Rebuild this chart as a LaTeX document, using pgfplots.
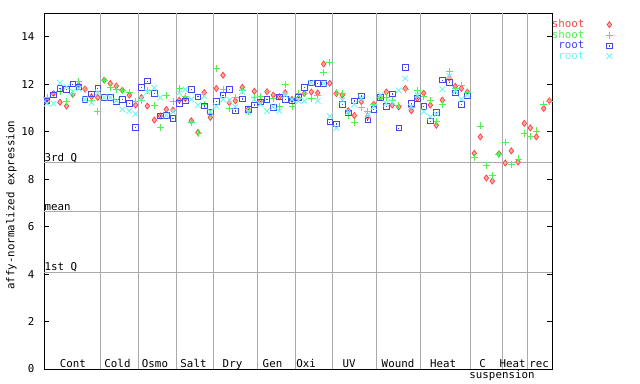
\documentclass[border=0pt]{standalone}
\usepackage{fontspec}
\setmainfont{DejaVu Sans Mono}
\usepackage{pgfplots}
\usepackage{pgfplotstable}
\pgfplotsset{compat=1.18}
\definecolor{sred}{RGB}{255,70,70}
\definecolor{sgreen}{RGB}{80,240,80}
\definecolor{rblue}{RGB}{70,70,240}
\definecolor{rcyan}{RGB}{110,245,245}
\definecolor{sepgray}{RGB}{170,170,170}
\newcommand\fnt{\fontsize{10.8bp}{12bp}\selectfont}
\pgfdeclareplotmark{sqdot}{%
  \pgfpathrectangle{\pgfpoint{-\pgfplotmarksize}{-\pgfplotmarksize}}{\pgfpoint{2\pgfplotmarksize}{2\pgfplotmarksize}}%
  \pgfusepathqstroke
  \pgfpathrectangle{\pgfpoint{-0.6bp}{-0.6bp}}{\pgfpoint{1.2bp}{1.2bp}}%
  \pgfusepathqfill}
\pgfplotstableread{
x sr sg rb rc
47.0 11.29 11.44 11.29 11.19
53.5 11.61 11.61 11.54 11.19
60.0 11.24 11.71 11.82 12.06
66.5 11.08 11.27 11.78 11.89
72.7 11.57 11.61 12.00 11.68
78.7 11.96 12.10 11.89 11.82
85.0 11.80 11.79 11.36 11.36
91.5 11.47 11.30 11.58 11.22
97.7 11.44 10.87 11.82 11.65
104.3 12.17 12.14 11.44 11.44
110.3 12.03 11.86 11.44 11.44
116.3 11.92 11.78 11.26 11.30
122.3 11.75 11.75 11.36 10.94
129.3 11.54 11.65 11.19 10.87
135.5 11.12 11.26 10.18 10.74
141.3 11.44 11.33 11.86 11.40
147.3 11.08 11.72 12.13 11.68
154.3 10.49 11.09 11.61 11.85
160.3 10.66 10.18 10.66 11.44
166.3 10.94 11.52 10.68 10.68
173.0 10.91 11.29 10.56 10.84
179.3 11.33 11.82 11.19 11.64
185.3 11.40 11.50 11.30 11.78
191.3 10.46 10.38 11.78 11.36
198.0 9.97 9.93 11.47 11.12
204.3 11.65 11.16 11.08 11.50
210.3 10.60 10.77 10.84 10.84
216.3 11.82 12.66 11.28 11.07
223.0 12.38 11.78 11.54 11.36
229.3 11.22 10.96 11.78 11.33
235.3 11.30 11.45 10.87 11.05
242.3 11.87 11.75 11.38 11.68
248.3 10.94 10.85 10.94 10.84
254.3 11.70 11.45 11.12 11.36
260.3 11.26 11.47 11.26 11.16
267.0 11.68 11.68 11.36 10.87
273.3 11.54 11.40 11.02 11.05
279.3 11.47 11.05 11.47 10.87
285.3 11.64 12.00 11.36 11.54
292.0 11.36 11.05 11.29 11.36
298.5 11.40 11.61 11.45 11.30
304.3 11.61 11.61 11.87 11.30
311.3 11.67 11.40 12.06 12.06
317.7 11.63 11.54 12.03 11.30
323.7 12.85 12.50 12.03 12.03
329.7 12.04 12.92 10.40 10.65
336.3 11.61 11.63 10.32 10.15
342.3 11.54 11.61 11.15 11.33
348.3 10.88 10.70 10.80 10.84
354.3 10.68 10.39 11.29 11.15
361.3 11.26 11.02 11.50 11.40
367.7 10.63 10.84 10.49 10.70
373.7 11.16 11.16 10.94 11.05
380.3 11.44 11.42 11.45 11.54
386.3 11.67 11.45 11.07 11.19
392.3 11.12 11.33 11.59 11.26
398.7 11.04 11.09 10.15 11.74
405.3 11.82 11.76 12.71 12.24
411.3 10.88 11.02 11.19 11.05
417.3 11.40 11.73 11.40 11.54
423.7 11.62 11.50 11.07 10.84
430.3 11.12 11.33 10.44 10.63
436.3 10.27 10.42 10.81 10.74
442.3 11.33 11.15 12.17 11.78
449.3 12.26 12.54 12.08 12.34
455.3 11.91 11.82 11.63 11.70
461.3 11.82 11.96 11.15 11.37
467.3 11.67 11.64 11.51 11.54
474.3 9.09 8.92 nan nan
480.3 9.78 10.24 nan nan
486.3 8.05 8.59 nan nan
492.3 7.92 8.14 nan nan
498.9 9.07 9.03 nan nan
505.3 8.68 9.56 nan nan
511.3 9.19 8.63 nan nan
518.0 8.72 8.85 nan nan
524.3 10.35 9.93 nan nan
530.3 10.16 9.78 nan nan
536.3 9.78 10.03 nan nan
543.7 10.98 11.16 nan nan
549.3 11.30 11.29 nan nan
}\data
\begin{document}
\begin{tikzpicture}
\useasboundingbox (-44bp,-15bp) rectangle (596bp,369bp);
\begin{axis}[
  scale only axis, width=508bp, height=356bp,
  at={(0,0)}, anchor=south west,
  xmin=44, xmax=552, ymin=0, ymax=15,
  xtick=\empty,
  ytick={0,2,4,6,8,10,12,14},
  ytick pos=both, yticklabel pos=left,
  tick align=inside,
  major tick length=5bp,
  tick style={black, line width=0.8bp},
  axis line style={black, line width=0.9bp},
  yticklabel style={font=\fnt, xshift=-6bp},
  /pgf/number format/assume math mode=true,
  extra x ticks={100.3,138.7,176.8,213.3,257.5,295.5,332.5,376.5,420.5,470.5,502.3,527.5},
  extra x tick labels={},
  extra x tick style={grid=major, major grid style={sepgray, line width=1bp}, major tick length=0pt},
  extra y ticks={4.08,6.62,8.68},
  extra y tick labels={},
  extra y tick style={grid=major, major grid style={sepgray, line width=1bp}, major tick length=0pt},
  ylabel={affy-normalized expression},
  ylabel style={at={(axis description cs:-0.064,0.46)}, anchor=center, font=\fnt},
  clip=false,
  legend style={draw=none, fill=none, at={(axis description cs:1,1)}, anchor=north west,
    xshift=-4bp, yshift=-4bp, font=\fnt, row sep=-0.1bp,
    nodes={inner sep=0.6bp},
    /tikz/every odd column/.append style={column sep=21bp}},
  legend plot pos=right, legend cell align=right,
]
\addplot[only marks, mark=diamond*, mark size=3bp, mark options={draw=sred, fill=sred!45!white, line width=0.8bp}] table[x=x, y=sr] {\data};
\addlegendentry{\textcolor{sred}{shoot}}
\addplot[only marks, mark=+, mark size=3.5bp, mark options={draw=sgreen, line width=0.9bp}] table[x=x, y=sg] {\data};
\addlegendentry{\textcolor{sgreen}{shoot}}
\addplot[only marks, mark=sqdot, mark size=2.7bp, mark options={draw=rblue, fill=rblue, line width=0.9bp}] table[x=x, y=rb] {\data};
\addlegendentry{\textcolor{rblue}{root}}
\addplot[only marks, mark=x, mark size=4bp, mark options={draw=rcyan, line width=0.9bp}] table[x=x, y=rc] {\data};
\addlegendentry{\textcolor{rcyan}{root}}
\node[font=\fnt, anchor=base west, inner sep=0pt] at (axis cs:44.5,8.68) [yshift=1.6bp] {3rd Q};
\node[font=\fnt, anchor=base west, inner sep=0pt] at (axis cs:44.5,6.62) [yshift=1.2bp] {mean};
\node[font=\fnt, anchor=base west, inner sep=0pt] at (axis cs:44.5,4.08) [yshift=1.2bp] {1st Q};
\foreach \px/\lab in {73/Cont,117.5/Cold,155/Osmo,193.5/Salt,232.5/Dry,272.5/Gen,306/Oxi,349/UV,398/Wound,443/Heat,482.5/C,512.5/Heat,539/rec}{
  \edef\tmp{\noexpand\node[font=\noexpand\fnt, anchor=base, inner sep=0pt] at (axis cs:\px,0) [yshift=2bp] {\lab};}\tmp
}
\node[font=\fnt, anchor=base, inner sep=0pt] at (axis cs:502,0) [yshift=-9bp] {suspension};
\end{axis}
\end{tikzpicture}
\end{document}
